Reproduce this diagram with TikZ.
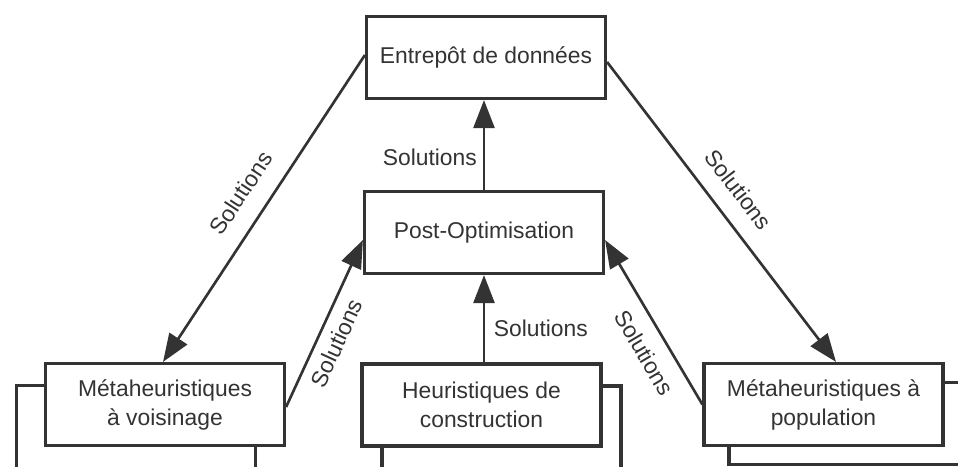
\documentclass[tikz,border=0pt]{standalone}
\usepackage{fontspec}
\setmainfont{Liberation Sans}
\usepackage{xcolor}
\usetikzlibrary{arrows.meta, positioning, calc}
\definecolor{inkgray}{gray}{0.2}
\tikzset{
  stagebox/.style={
    draw=inkgray, line width=1.8pt, fill=white, align=center,
    font=\fontsize{13}{16.5}\selectfont, text=inkgray,
    minimum width=4.78cm, minimum height=1.64cm, inner sep=0pt
  },
  stackbox/.style={
    draw=inkgray, line width=1.8pt, fill=white,
    minimum width=4.78cm, minimum height=1.64cm
  },
  flowarrow/.style={
    -{Triangle[length=5.6mm, width=4.2mm]}, line width=1.5pt, draw=inkgray
  },
  flowlabel/.style={
    font=\fontsize{13}{16.5}\selectfont, text=inkgray
  },
}

\begin{document}
\begin{tikzpicture}
  \useasboundingbox (0,0) rectangle (19.16,-9.32);
  \clip (0,0) rectangle (19.16,-9.32);

  % ── Stacked copies behind the lower boxes ─────────────────────
  \node[stackbox, minimum height=1.9cm] (voisinback) at (2.72,-8.66) {};
  \node[stackbox, minimum height=1.9cm] (heurback) at (10.03,-8.67) {};
  \node[stackbox] (populback) at (16.97,-8.47) {};

  % ── Boxes ──────────────────────────────────────────────────────
  \node[stagebox] (entrepot) at (9.72,-1.15) {Entrepôt de données};
  \node[stagebox] (postopt) at (9.68,-4.65) {Post-Optimisation};
  \node[stagebox] (voisin) at (3.30,-8.09)
    {Métaheuristiques\\à voisinage};
  \node[stagebox] (heur) at (9.63,-8.10)
    {Heuristiques de\\construction};
  \node[stagebox] (popul) at (16.47,-8.09)
    {Métaheuristiques à\\population};

  % ── Solution flows ─────────────────────────────────────────────
  \draw[flowarrow] (postopt.north) --
    node[flowlabel, pos=0.36, left=0pt] {Solutions}
    (postopt.north |- entrepot.south);
  \draw[flowarrow] (postopt.south |- heur.north) --
    node[flowlabel, pos=0.39, right=1.5pt] {Solutions}
    (postopt.south);

  \draw[flowarrow] ([yshift=0.05cm]entrepot.west) --
    node[flowlabel, sloped, pos=0.5, above=7pt] {Solutions}
    ([xshift=-0.04cm]voisin.north);
  \draw[flowarrow] ([yshift=-0.05cm]voisin.east) --
    node[flowlabel, sloped, pos=0.43, below=2pt] {Solutions}
    ([yshift=-0.15cm]postopt.west);
  \draw[flowarrow] ([yshift=-0.09cm]entrepot.east) --
    node[flowlabel, sloped, pos=0.48, above=6.5pt] {Solutions}
    ([xshift=0.25cm]popul.north);
  \draw[flowarrow] (popul.west) --
    node[flowlabel, sloped, pos=0.39, below=4.5pt] {Solutions}
    ([yshift=-0.15cm]postopt.east);
\end{tikzpicture}
\end{document}
